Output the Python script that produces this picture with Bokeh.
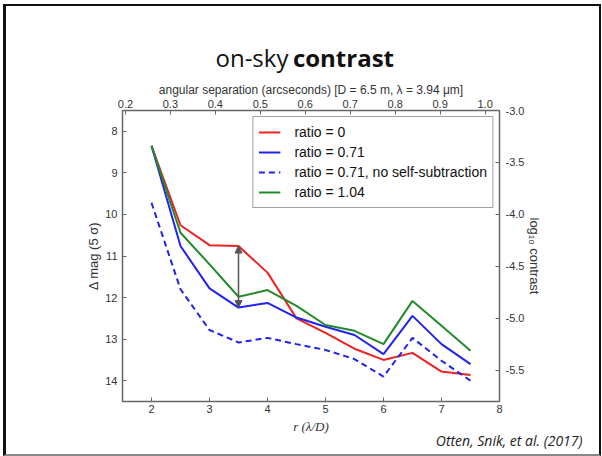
from bokeh.plotting import figure
from bokeh.layouts import column
from bokeh.models import (Range1d, LinearAxis, FixedTicker, NumeralTickFormatter,
                          Legend, LegendItem, Arrow, NormalHead, Title)
from bokeh.core.properties import value
from bokeh.embed import file_html
from bokeh.resources import INLINE

# ---- data ----
r_ld = [2, 2.5, 3, 3.5, 4, 4.5, 5, 5.5, 6, 6.5, 7, 7.5]
mag_ratio_0 = [8.35, 10.26, 10.74, 10.76, 11.40, 12.50, 12.85, 13.23, 13.50, 13.33, 13.78, 13.86]
mag_ratio_071 = [8.35, 10.76, 11.78, 12.24, 12.13, 12.48, 12.70, 12.90, 13.36, 12.44, 13.12, 13.60]
mag_ratio_071_noss = [9.72, 11.80, 12.78, 13.08, 12.97, 13.12, 13.26, 13.48, 13.90, 12.97, 13.52, 14.00]
mag_ratio_104 = [8.35, 10.44, 11.20, 11.98, 11.82, 12.20, 12.66, 12.80, 13.12, 12.08, 12.68, 13.28]

x_ticks = [2, 3, 4, 5, 6, 7, 8]
y_ticks = [8, 9, 10, 11, 12, 13, 14]
top_ticks = [0.2, 0.3, 0.4, 0.5, 0.6, 0.7, 0.8, 0.9, 1.0]
right_ticks = [-3.0, -3.5, -4.0, -4.5, -5.0, -5.5]

title_words = ["on-sky", "contrast"]
citation = "Otten, Snik, et al. (2017)"

x_lo, x_hi = 1.5, 8.0
y_lo, y_hi = 7.5, 14.5
arcsec_per_ld = 0.129

FONT = "Liberation Sans"
W = 593
H_HEAD = 72
H_MAIN = 376

# ---------- header with the slide title ----------
head = figure(width=W, height=H_HEAD, output_backend="svg", toolbar_location=None,
              x_range=Range1d(0, W), y_range=Range1d(H_HEAD, 0),
              x_axis_type=None, y_axis_type=None,
              min_border_left=0, min_border_right=0, min_border_top=0,
              min_border_bottom=0)
head.grid.visible = False
head.outline_line_color = None
head.background_fill_color = "white"
head.border_fill_color = "white"
head.text(x=[261], y=[51], text=[title_words[0]], text_align="right",
          text_baseline="alphabetic", text_font=value("Open Sans"),
          text_font_size="24px", text_color="#111111")
head.text(x=[268], y=[51], text=[title_words[1]], text_align="left",
          text_baseline="alphabetic", text_font=value("Open Sans"),
          text_font_style="bold", text_font_size="24px", text_color="#111111")

# ---------- main chart ----------
p = figure(width=W, height=H_MAIN, output_backend="svg", toolbar_location=None,
           x_range=Range1d(x_lo, x_hi), y_range=Range1d(y_hi, y_lo),
           min_border_left=116, min_border_right=100, min_border_top=32,
           min_border_bottom=53, x_axis_location="below")
p.grid.visible = False
p.background_fill_color = "white"
p.border_fill_color = "white"
p.outline_line_color = "#666666"
p.outline_line_width = 1.5

bottom_axis = p.below[0]
left_axis = p.left[0]

p.extra_x_ranges = {"arcsec": Range1d(x_lo * arcsec_per_ld, x_hi * arcsec_per_ld)}
p.extra_y_ranges = {"contrast": Range1d(-y_hi / 2.5, -y_lo / 2.5)}

top_axis = LinearAxis(x_range_name="arcsec")
right_axis = LinearAxis(y_range_name="contrast")
p.add_layout(top_axis, "above")
p.add_layout(right_axis, "right")

def style_axis(ax, ticks, fmt, label, label_font=FONT, label_style="normal",
               label_size="13px", std=4, label_std=3):
    ax.ticker = FixedTicker(ticks=ticks)
    ax.formatter = NumeralTickFormatter(format=fmt)
    ax.axis_label = label
    ax.axis_label_text_font = label_font
    ax.axis_label_text_font_style = label_style
    ax.axis_label_text_font_size = label_size
    ax.axis_label_text_color = "#333333"
    ax.axis_label_standoff = label_std
    ax.major_label_text_font = FONT
    ax.major_label_text_font_size = "11px"
    ax.major_label_text_color = "#333333"
    ax.major_label_standoff = std
    ax.major_tick_in = 4
    ax.major_tick_out = 0
    ax.minor_tick_in = 0
    ax.minor_tick_out = 0
    ax.major_tick_line_color = "#666666"
    ax.axis_line_color = None

style_axis(bottom_axis, x_ticks, "0", "r (λ/D)", label_font="Liberation Serif",
           label_style="italic", label_size="13px", std=3, label_std=3)
style_axis(left_axis, y_ticks, "0", "Δ mag (5 σ)", std=5, label_std=1)
style_axis(top_axis, top_ticks, "0.0",
           "angular separation (arcseconds) [D = 6.5 m, λ = 3.94 μm]",
           label_size="12px", std=3, label_std=0)
style_axis(right_axis, right_ticks, "0.0", "log₁₀ contrast", std=6, label_std=0)

r0 = p.line(r_ld, mag_ratio_0, line_color="#ee2222", line_width=2)
r1 = p.line(r_ld, mag_ratio_071, line_color="#2222ee", line_width=2)
r2 = p.line(r_ld, mag_ratio_071_noss, line_color="#2222ee", line_width=2,
            line_dash="6 4")
r3 = p.line(r_ld, mag_ratio_104, line_color="#228a2a", line_width=2)

i = r_ld.index(3.5)
head_s = NormalHead(size=7, fill_color="#555555", line_color="#555555")
head_e = NormalHead(size=7, fill_color="#555555", line_color="#555555")
p.add_layout(Arrow(start=head_s, end=head_e, x_start=r_ld[i], y_start=mag_ratio_0[i],
                   x_end=r_ld[i], y_end=mag_ratio_071[i],
                   line_color="#555555", line_width=1.5))

legend = Legend(items=[
    LegendItem(label="ratio = 0", renderers=[r0]),
    LegendItem(label="ratio = 0.71", renderers=[r1]),
    LegendItem(label="ratio = 0.71, no self-subtraction", renderers=[r2]),
    LegendItem(label="ratio = 1.04", renderers=[r3]),
], location="top_right")
legend.margin = 6
legend.padding = 5
legend.spacing = 0
legend.glyph_width = 22
legend.glyph_height = 20
legend.label_height = 20
legend.label_standoff = 14
legend.label_text_font = FONT
legend.label_text_font_size = "14px"
legend.label_text_color = "#111111"
legend.border_line_color = "#444444"
legend.border_line_width = 1.5
legend.background_fill_color = "white"
legend.background_fill_alpha = 1.0
p.add_layout(legend, "center")

p.add_layout(Title(text=citation, align="right", offset=-83, standoff=-16,
                   text_font="Open Sans", text_font_style="italic",
                   text_font_size="14px", text_color="#222222"), "below")

layout = column(head, p, spacing=0)
layout.styles = {"margin-left": "3px", "margin-top": "4px",
                 "border-left": "3px solid #111", "border-top": "2px solid #111",
                 "border-right": "2px solid #111", "border-bottom": "2px solid #888"}

open("out.html", "w").write(file_html(layout, INLINE))
